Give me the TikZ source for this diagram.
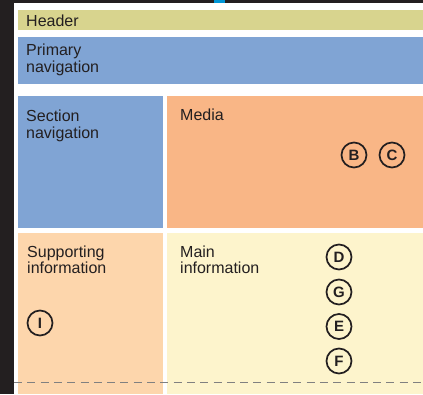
\documentclass[tikz,border=0pt]{standalone}
\usepackage{fontspec}
\setmainfont{Liberation Sans}
\definecolor{inkdark}{HTML}{231F20}
\definecolor{headerfill}{RGB}{216,212,142}
\definecolor{navfill}{RGB}{128,164,212}
\definecolor{mediafill}{RGB}{249,182,134}
\definecolor{supportfill}{RGB}{253,214,172}
\definecolor{mainfill}{RGB}{253,244,204}
\definecolor{tabblue}{RGB}{0,150,214}
\begin{document}
\begin{tikzpicture}
		[x=1pt, y=-1pt,
		label/.style = {anchor=base west, align=left, inner sep=0pt, text=inkdark, font=\fontsize{16}{16.5}\selectfont},
		marker/.style = {shape=circle, draw=inkdark, line width=1.7pt, minimum size=25pt, inner sep=0pt, text=inkdark, font=\fontsize{15}{15}\selectfont\bfseries}]
	\useasboundingbox (0,0) rectangle (423,394);
	% frame of the screen
	\fill[inkdark] (0,0) rectangle (423,3);
	\fill[inkdark] (0,0) rectangle (14,394);
	\fill[tabblue] (214,0) rectangle (225,3);
	% page areas
	\fill[headerfill] (18,9.5) rectangle (423,30);
	\fill[navfill] (18,37) rectangle (423,84);
	\fill[navfill] (18,96) rectangle (162.5,227.5);
	\fill[mediafill] (167,96) rectangle (423,227.5);
	\fill[supportfill] (18,232.5) rectangle (162.5,394);
	\fill[mainfill] (167,232.5) rectangle (423,394);
	% fold
	\coordinate (fold-l) at (14,382.5);
	\coordinate (fold-r) at (423,382.5);
	\draw[gray, line width=1.5pt, dash pattern=on 8pt off 5.3pt] (fold-l) -- (fold-r);
	% area names (base = last line)
	\node[label, name=header] at (26,26) {Header};
	\node[label, name=primary] at (26,72) {Primary\\navigation};
	\node[label, name=section] at (26,138) {Section\\navigation};
	\node[label, name=media] at (180,120) {Media};
	\node[label, name=support] at (27,273.5) {Supporting\\information};
	\node[label, name=main] at (180,273.5) {Main\\information};
	% markers
	\node[marker, name=B] at (354,155) {B};
	\node[marker, name=C] at (392,155) {C};
	\node[marker, name=I] at (40,323) {I};
	\foreach \m/\y in {D/257, G/292, E/326.5, F/361}
	{
		\node[marker, name=\m] at (339,\y) {\m};
	}
\end{tikzpicture}
\end{document}
